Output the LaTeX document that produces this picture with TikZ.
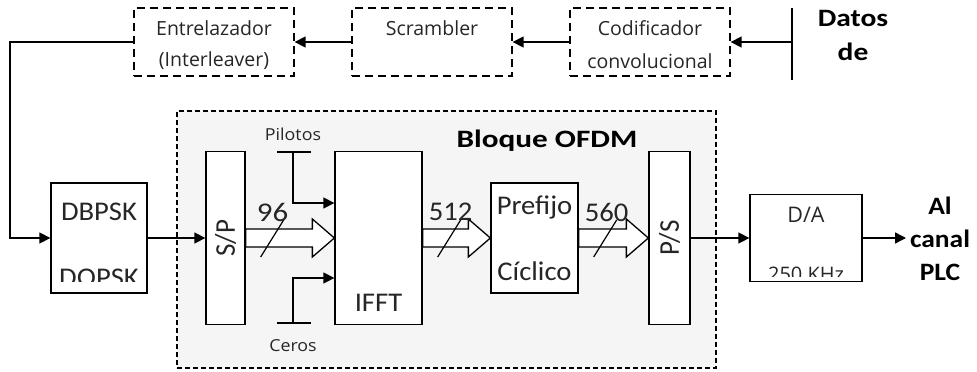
\documentclass[tikz,border=0pt]{standalone}
\usepackage{fontspec}
\setmainfont{Carlito}
\newfontfamily\segoe{Open Sans}
\usetikzlibrary{arrows.meta,calc}
\tikzset{
  ln/.style={line width=1.4pt},
  arr/.style={ln,-{Triangle[length=11pt,width=11pt]}},
  dbox/.style={draw,line width=1.3pt,dash pattern=on 8pt off 5pt,fill=white,inner sep=0pt},
  sbox/.style={draw,line width=1.3pt,fill=white,inner sep=0pt},
  toptxt/.style={font=\segoe\fontsize{19.5}{22}\selectfont,text=black!85,inner sep=0pt},
  smalltxt/.style={font=\segoe\fontsize{16.5}{19}\selectfont,text=black!85,inner sep=0pt,xscale=1.08},
  bigtxt/.style={font=\fontsize{27}{30}\selectfont,text=black!85,inner sep=0pt,xscale=1.06},
  boldtxt/.style={font=\bfseries\fontsize{25}{28}\selectfont,inner sep=0pt},
  busarrow/.style={draw,line width=1.3pt,fill=white,line join=miter},
  slash/.style={line width=1.2pt}
}
\newcommand\busline[2]{%
  \draw[busarrow] ($(#1.east)+(0,-9)$) -- ($(#2.west)+(-22,-9)$) -- ($(#2.west)+(-22,-19)$)
    -- (#2.west) -- ($(#2.west)+(-22,19)$) -- ($(#2.west)+(-22,9)$) -- ($(#1.east)+(0,9)$) -- cycle;
  \draw[slash] ($(#1.east)+(15,19)$) -- ($(#1.east)+(38,-18)$);
}
\begin{document}
\begin{tikzpicture}[x=1pt,y=-1pt]
\useasboundingbox[fill=white] (0,0) rectangle (977,372);
% OFDM region
\node[draw,line width=1.2pt,dash pattern=on 5pt off 3pt,fill=black!4,minimum width=539pt,minimum height=257pt,inner sep=0pt] (ofdm) at (446.5,239.5) {};
\node[boldtxt,xscale=1.25] (ofdmlbl) at (547,141) {Bloque OFDM};

% top chain
\node[dbox,minimum width=160pt,minimum height=68pt] (ent) at (214,42) {};
\node[dbox,minimum width=160pt,minimum height=68pt] (scr) at (432,42) {};
\node[dbox,minimum width=160pt,minimum height=68pt] (cod) at (650,42) {};
\node[toptxt] (entA) at (214,28) {Entrelazador};
\node[toptxt] (entB) at (214,61) {(Interleaver)};
\node[toptxt] (scrA) at (432,28) {Scrambler};
\node[toptxt] (codA) at (650,28) {Codificador};
\node[toptxt] (codB) at (650,61) {convolucional};
\coordinate (dtop) at (792,8);
\coordinate (dbot) at (792,80);
\coordinate (dmid) at (792,42);
\draw[ln] (dtop) -- (dbot);
\draw[arr] (dmid) -- (cod.east);
\draw[arr] (cod.west) -- (scr.east);
\draw[arr] (scr.west) -- (ent.east);
\node[boldtxt,xscale=1.18] (datos) at (853,18) {Datos};
\node[boldtxt,xscale=1.18] (de) at (853,52) {de};

% modulator
\node[sbox,minimum width=96pt,minimum height=110pt] (mod) at (99,238) {};
\node[bigtxt] (modA) at (99,212) {DBPSK};
\begin{scope}
\clip (51,182) rectangle (147,281);
\node[bigtxt,anchor=base] (modB) at (99,286) {DQPSK};
\end{scope}
\coordinate (fbA) at (10,42);
\draw[arr] (ent.west) -- (fbA) |- (mod.west);

% OFDM blocks
\node[sbox,minimum width=39pt,minimum height=173pt] (sp) at (225.5,238) {};
\node[bigtxt,rotate=90] (spl) at (225.5,238) {S/P};
\node[sbox,minimum width=87pt,minimum height=173pt] (ifft) at (378.5,238) {};
\node[bigtxt] (ifftl) at (378.5,303) {IFFT};
\node[sbox,minimum width=87pt,minimum height=110pt] (pref) at (534.5,238) {};
\node[bigtxt] (prefA) at (534.5,207) {Prefijo};
\node[bigtxt] (prefB) at (534.5,271) {Cíclico};
\node[sbox,minimum width=41pt,minimum height=173pt] (ps) at (669.5,238) {};
\node[bigtxt,rotate=90] (psl) at (669.5,238) {P/S};
\node[sbox,minimum width=112pt,minimum height=87pt] (da) at (806,238) {};
\node[font=\segoe\fontsize{21.5}{24}\selectfont,text=black!85,inner sep=0pt] (daA) at (806,215) {D/A};
\begin{scope}
\clip (750,194) rectangle (862,276);
\node[font=\segoe\fontsize{20}{22}\selectfont,text=black!85,inner sep=0pt,anchor=base] (daB) at (806,281) {250 KHz};
\end{scope}

\draw[arr] (mod.east) -- (sp.west);
\busline{sp}{ifft}
\busline{ifft}{pref}
\busline{pref}{ps}
\node[bigtxt,xscale=1.08] (n96) at ($(sp.east)+(27,-26)$) {96};
\node[bigtxt] (n512) at ($(ifft.east)+(28,-26)$) {512};
\node[bigtxt] (n560) at ($(pref.east)+(28,-26)$) {560};

% pilots and zeros
\node[smalltxt] (pil) at (293,134) {Pilotos};
\coordinate (pbL) at (277,152);
\coordinate (pbR) at (311,152);
\coordinate (pbM) at (293,152);
\draw[ln] (pbL) -- (pbR);
\draw[arr] (pbM) |- (ifft.west |- 0,203);
\node[smalltxt] (cer) at (293,346) {Ceros};
\coordinate (cbL) at (277,323);
\coordinate (cbR) at (311,323);
\coordinate (cbM) at (293,323);
\draw[ln] (cbL) -- (cbR);
\draw[arr] (cbM) |- (ifft.west |- 0,278);

\draw[arr] (ps.east) -- (da.west);
\coordinate (outp) at (906,238);
\draw[arr] (da.east) -- (outp);
\node[boldtxt,xscale=1.1] (outA) at (940,206) {Al};
\node[boldtxt,xscale=1.1] (outB) at (940,239) {canal};
\node[boldtxt,xscale=1.1] (outC) at (940,272) {PLC};
\end{tikzpicture}
\end{document}
